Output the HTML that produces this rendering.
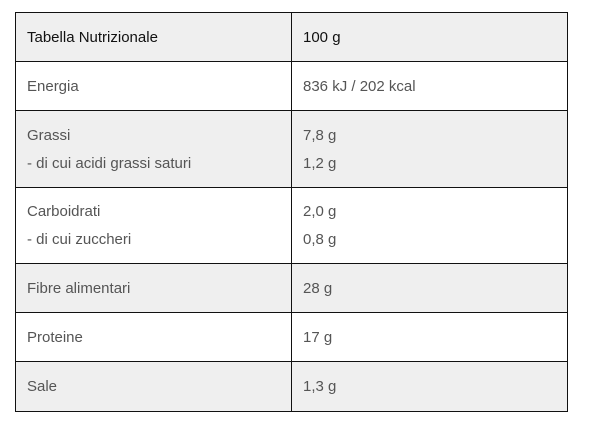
<!DOCTYPE html>
<html><head><style>
body{margin:0;width:600px;height:432px;background:#fff;font-family:"Liberation Sans",sans-serif;position:relative;overflow:hidden}
.r{position:absolute;left:15px;width:553px;border:1px solid #111;border-bottom:none;box-sizing:border-box;display:flex;align-items:center}
.c1,.c2{position:absolute;top:0;bottom:0;display:flex;flex-direction:column;justify-content:center;font-size:15px;line-height:28px;color:#555}
.c1{left:11px}
.c2{left:287px}
.v{position:absolute;left:275px;top:0;bottom:0;width:1px;background:#111}
.g{background:#efefef}
.h .c1,.h .c2{color:#111}
</style></head><body>
<div class="r g h" style="top:12px;height:50px"><div class="v"></div><div class="c1">Tabella Nutrizionale</div><div class="c2">100 g</div></div>
<div class="r" style="top:61px;height:50px"><div class="v"></div><div class="c1">Energia</div><div class="c2">836 kJ / 202 kcal</div></div>
<div class="r g" style="top:110px;height:78px"><div class="v"></div><div class="c1"><div>Grassi</div><div>- di cui acidi grassi saturi</div></div><div class="c2"><div>7,8 g</div><div>1,2 g</div></div></div>
<div class="r" style="top:187px;height:77px"><div class="v"></div><div class="c1"><div>Carboidrati</div><div>- di cui zuccheri</div></div><div class="c2"><div>2,0 g</div><div>0,8 g</div></div></div>
<div class="r g" style="top:263px;height:50px"><div class="v"></div><div class="c1">Fibre alimentari</div><div class="c2">28 g</div></div>
<div class="r" style="top:312px;height:50px"><div class="v"></div><div class="c1">Proteine</div><div class="c2">17 g</div></div>
<div class="r g" style="top:361px;height:51px;border-bottom:1px solid #111"><div class="v"></div><div class="c1">Sale</div><div class="c2">1,3 g</div></div>
</body></html>
